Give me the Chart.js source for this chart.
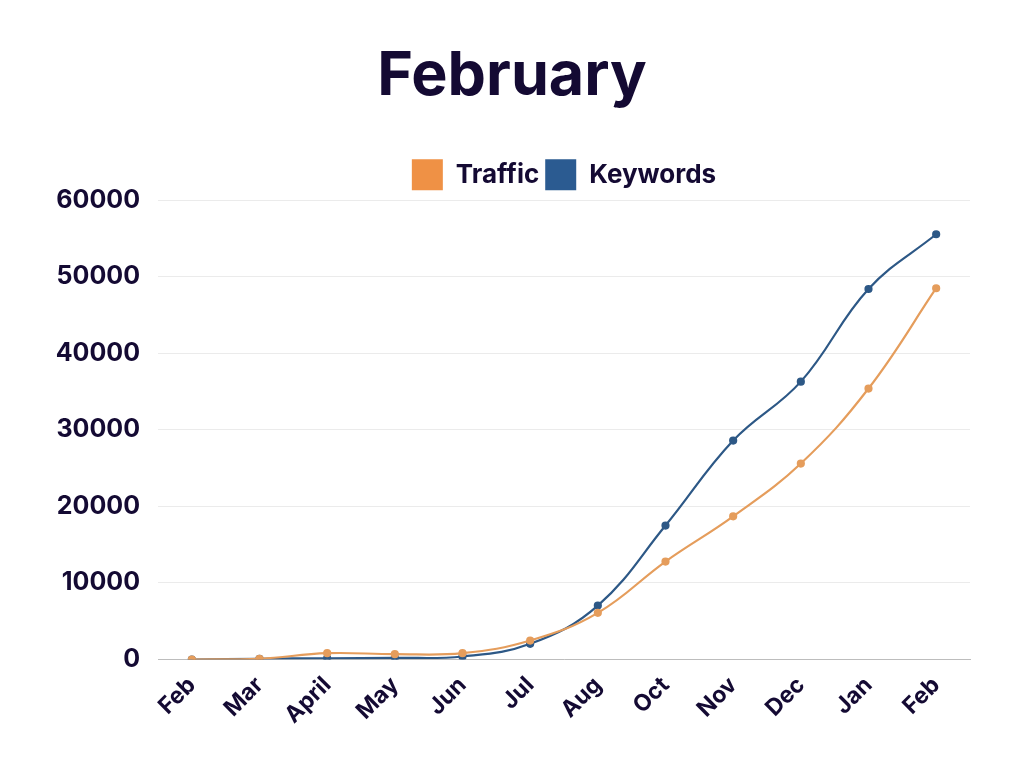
<!DOCTYPE html>
<html>
<head>
<meta charset="utf-8">
<script src="https://cdn.jsdelivr.net/npm/chart.js@4/dist/chart.umd.min.js"></script>
<style>
  html, body { margin: 0; padding: 0; background: #fff; }
  #wrap { width: 1024px; height: 768px; }
</style>
</head>
<body>
<div id="wrap"><canvas id="chart"></canvas></div>
<script>
const months = ['Feb', 'Mar', 'April', 'May', 'Jun', 'Jul', 'Aug', 'Oct', 'Nov', 'Dec', 'Jan', 'Feb'];
const traffic = [0, 100, 830, 700, 830, 2480, 6100, 12800, 18700, 25600, 35400, 48500];
const keywords = [0, 100, 170, 220, 400, 2050, 7050, 17500, 28600, 36300, 48400, 55550];
const yTicks = [0, 10000, 20000, 30000, 40000, 50000, 60000];

const ink = '#140a33';
const font = 'Inter, "Noto Sans", sans-serif';

new Chart(document.getElementById('chart'), {
  type: 'line',
  data: {
    labels: months,
    datasets: [
      {
        label: 'Traffic',
        data: traffic,
        borderColor: '#e59d5c',
        backgroundColor: '#ef9145',
        pointBackgroundColor: '#e59d5c',
        pointBorderColor: '#e59d5c',
        borderWidth: 2.2,
        pointRadius: 3,
        tension: 0.4
      },
      {
        label: 'Keywords',
        data: keywords,
        borderColor: '#2d5886',
        backgroundColor: '#2b5b91',
        pointBackgroundColor: '#2d5886',
        pointBorderColor: '#2d5886',
        borderWidth: 2.2,
        pointRadius: 3,
        tension: 0.4
      }
    ]
  },
  options: {
    responsive: true,
    maintainAspectRatio: false,
    animation: false,
    layout: { padding: { left: 54, right: 54, bottom: 35, top: 0 } },
    plugins: {
      title: {
        display: true,
        text: 'February',
        color: ink,
        font: { family: font, size: 61, weight: 'bold' },
        padding: { top: 40, bottom: 40 }
      },
      legend: {
        fullSize: false,
        labels: {
          color: ink,
          font: { family: font, size: 26, weight: 'bold' },
          boxWidth: 31,
          boxHeight: 31,
          padding: 6,
          generateLabels(chart) {
            return Chart.defaults.plugins.legend.labels.generateLabels(chart).map(l => {
              const ds = chart.data.datasets[l.datasetIndex];
              l.fillStyle = ds.backgroundColor;
              l.strokeStyle = ds.backgroundColor;
              l.lineWidth = 0;
              return l;
            });
          }
        }
      },
      tooltip: { enabled: false }
    },
    scales: {
      x: {
        offset: true,
        grid: { display: false },
        border: { color: '#bdbdbd', width: 1 },
        ticks: {
          color: ink,
          font: { family: font, size: 23, weight: 'bold' },
          minRotation: 45,
          maxRotation: 45,
          padding: 4
        }
      },
      y: {
        min: 0,
        max: 60000,
        afterBuildTicks(axis) { axis.ticks = yTicks.map(v => ({ value: v })); },
        afterFit(axis) { axis.width = 104; },
        grid: { color: '#ebebeb', drawTicks: false },
        border: { display: false },
        ticks: {
          color: ink,
          font: { family: font, size: 25, weight: 'bold' },
          padding: 18,
          callback: v => String(v)
        }
      }
    }
  }
});
</script>
</body>
</html>
